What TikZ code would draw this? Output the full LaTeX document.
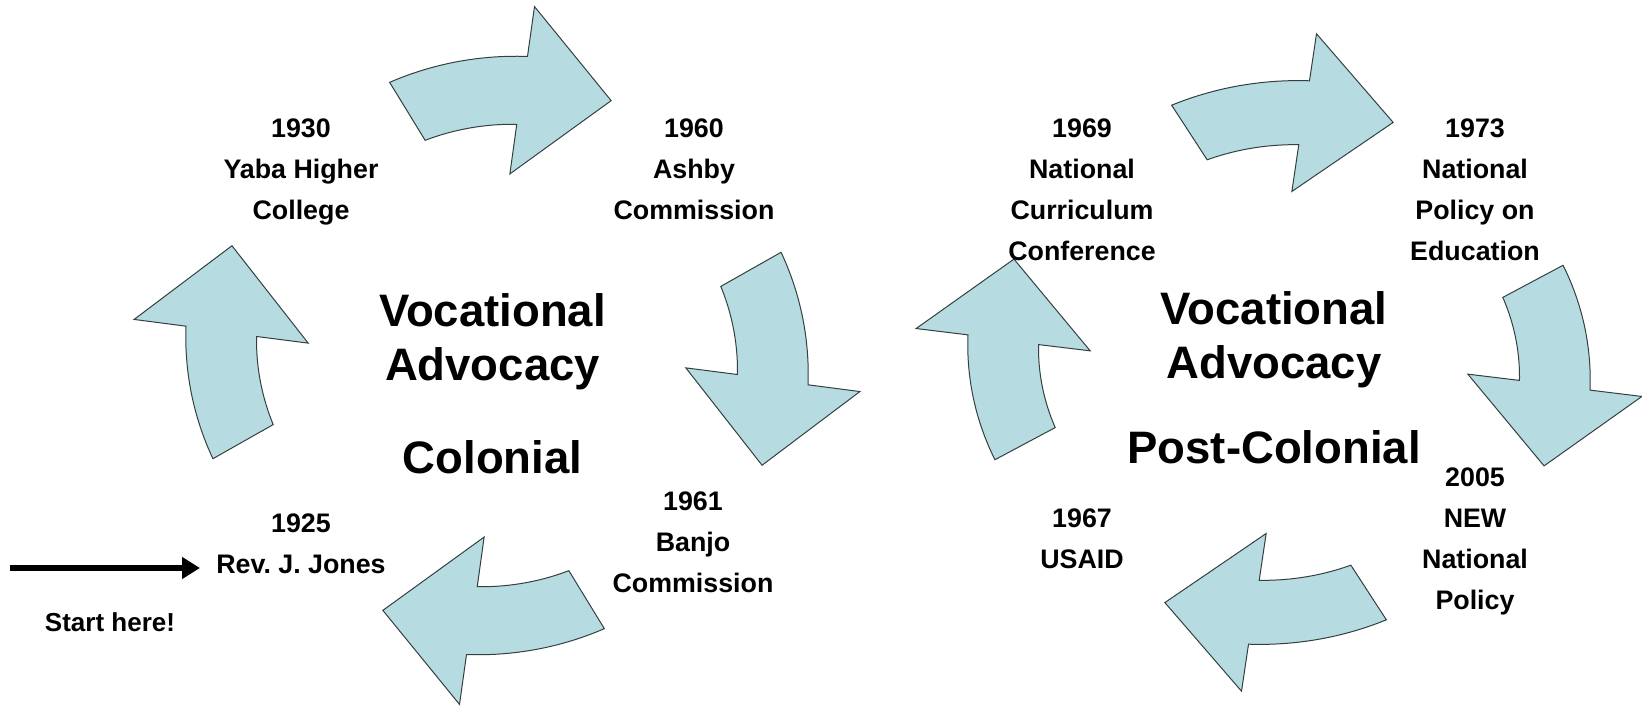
\documentclass[tikz,border=0pt]{standalone}
\usepackage{fontspec}
\setmainfont{Liberation Sans}
\usetikzlibrary{arrows.meta}
\frenchspacing

\definecolor{arrowblue}{HTML}{B6DCE2}
\definecolor{arrowedge}{HTML}{34403F}

\tikzset{
  cyclearrow/.style={fill=arrowblue, draw=arrowedge, line width=1pt, line join=miter},
  eventtext/.style={anchor=north, inner sep=0pt, align=center,
    font=\fontsize{26.8}{41}\selectfont\bfseries},
  starttext/.style={anchor=north, inner sep=0pt, align=center,
    font=\fontsize{26}{30}\selectfont\bfseries},
  titletext/.style={anchor=north, inner sep=0pt, align=center,
    font=\fontsize{45.5}{53.5}\selectfont\bfseries},
  startarrow/.style={line width=6.5pt, -{Triangle[length=18pt,width=21pt]}},
}

% one curved block arrow of a cycle, drawn at the top of the ring, pointing clockwise
\newcommand{\curvedblock}{%
  \path[cyclearrow]
    plot[domain=110.7:84.4, samples=30] (\x:{292+8.5*(110.7-\x)/26.3})
    -- (84.1:350.8) -- (66.7:277.5) -- (86.1:182)
    -- plot[domain=85.3:107.8, samples=30] (\x:{232-6*(\x-85.3)/22.5})
    -- cycle;}

\begin{document}
\begin{tikzpicture}[x=1pt, y=1pt]
  \useasboundingbox (0,0) rectangle (1642,707);
  \fill[white] (0,0) rectangle (1642,707);

  % colonial cycle
  \begin{scope}[shift={(497,351.5)}, xscale=1.04]
    \foreach \a in {0,-90,-180,-270} {
      \begin{scope}[rotate=\a]\curvedblock\end{scope}
    }
  \end{scope}

  % post-colonial cycle
  \begin{scope}[shift={(1279,344.5)}, xscale=1.04, yscale=0.942]
    \foreach \a in {0,-90,-180,-270} {
      \begin{scope}[rotate=\a]\curvedblock\end{scope}
    }
  \end{scope}

  % titles
  \node[titletext] (coltitle) at (492.5,413.6) {Vocational\\Advocacy\\[39.5pt]Colonial};
  \node[titletext] (posttitle) at (1274,415.6) {Vocational\\Advocacy\\[31.5pt]Post-Colonial};

  % colonial events
  \node[eventtext] (e1925) at (301,193.2) {1925\\Rev. J. Jones};
  \node[eventtext] (e1930) at (301,588.5) {1930\\Yaba Higher\\College};
  \node[eventtext] (e1960) at (694,588.5) {1960\\Ashby\\Commission};
  \node[eventtext] (e1961) at (693,215.2) {1961\\Banjo\\Commission};

  % post-colonial events
  \node[eventtext] (e1969) at (1082,588.5) {1969\\National\\Curriculum\\Conference};
  \node[eventtext] (e1973) at (1475,588.5) {1973\\National\\Policy on\\Education};
  \node[eventtext] (e2005) at (1475,239.2) {2005\\NEW\\National\\Policy};
  \node[eventtext] (e1967) at (1082,198.7) {1967\\USAID};

  % entry point
  \node[starttext] (starthere) at (110,94.6) {Start here!};
  \coordinate (arrowfrom) at (10,139);
  \coordinate (arrowto) at (200,139);
  \draw[startarrow] (arrowfrom) -- (arrowto);
\end{tikzpicture}
\end{document}
